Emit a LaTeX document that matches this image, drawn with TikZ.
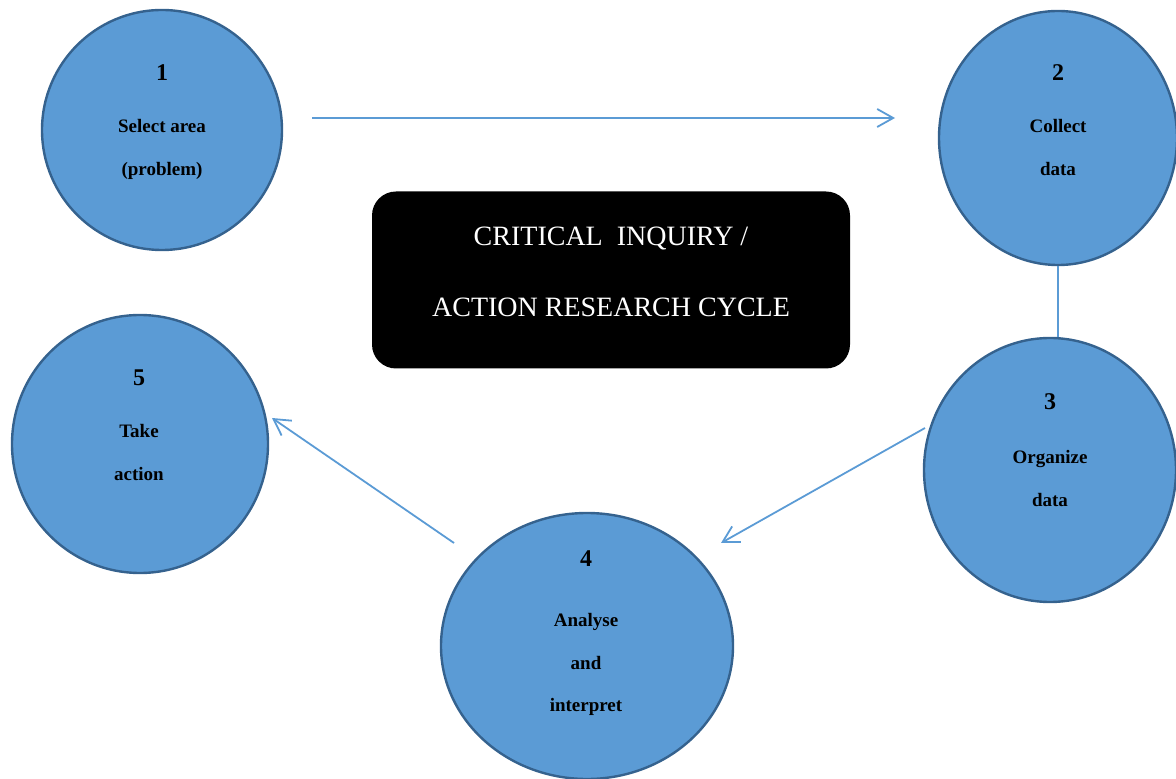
\documentclass[tikz,border=0pt]{standalone}
\usepackage{fontspec}
\setmainfont{Liberation Serif}
\usetikzlibrary{arrows.meta,shapes.geometric}
\definecolor{stagefill}{HTML}{5B9BD5}
\definecolor{stageline}{HTML}{35628E}
\definecolor{flowline}{HTML}{5B9BD5}
\tikzset{
  stage/.style={ellipse, draw=stageline, line width=1.2pt, fill=stagefill, inner sep=0pt},
  stagetext/.style={anchor=north, align=center, inner sep=0pt,
    font=\bfseries\fontsize{9.5}{21.25}\selectfont},
  flow/.style={draw=flowline, line width=0.9pt, -{Straight Barb[length=8pt,width=9pt]}}
}
\begin{document}
\begin{tikzpicture}[x=0.5pt,y=-0.5pt]
      \useasboundingbox (0,0) rectangle (1176,779);
      \draw
        (162,130) node[stage, minimum width=120pt, minimum height=120pt] (1){}
        (1058,138) node[stage, minimum width=119pt, minimum height=127pt] (2){}
        (1050,470) node[stage, minimum width=126pt, minimum height=132pt] (3){}
        (587,646) node[stage, minimum width=146pt, minimum height=133pt] (4){}
        (140,444) node[stage, minimum width=128pt, minimum height=129pt] (5){}
        (611,280) node[fill=black, rounded corners=12pt, minimum width=239pt, minimum height=88.5pt] (box){};
      % texts
      \node[stagetext] (t1) at (162,64) {{\fontsize{12}{12}\selectfont 1}\\[5pt]Select area\\(problem)};
      \node[stagetext] (t2) at (1058,64) {{\fontsize{12}{12}\selectfont 2}\\[5pt]Collect\\data};
      \node[stagetext] (t3) at (1050,393) {{\fontsize{12}{12}\selectfont 3}\\[6pt]Organize\\data};
      \node[stagetext] (t4) at (586,550) {{\fontsize{12}{12}\selectfont 4}\\[9pt]Analyse\\and\\interpret};
      \node[stagetext] (t5) at (139,369) {{\fontsize{12}{12}\selectfont 5}\\[5pt]Take\\action};
      \node[align=center, text=white, font=\fontsize{14}{35.5}\selectfont] (title) at (611,272)
        {CRITICAL~~INQUIRY /\\ACTION RESEARCH CYCLE};
      % connectors
      \coordinate (s12) at (312,118);
      \coordinate (e12) at (895,118);
      \coordinate (s34) at (925,428);
      \coordinate (e34) at (721,543);
      \coordinate (s45) at (454,543);
      \coordinate (e45) at (272,418);
      \begin{scope}[flow]
        \draw (s12) to (e12);
        \draw[-] (2.south) to (2.south |- 3.north);
        \draw (s34) to (e34);
        \draw (s45) to (e45);
      \end{scope}
    \end{tikzpicture}
\end{document}
